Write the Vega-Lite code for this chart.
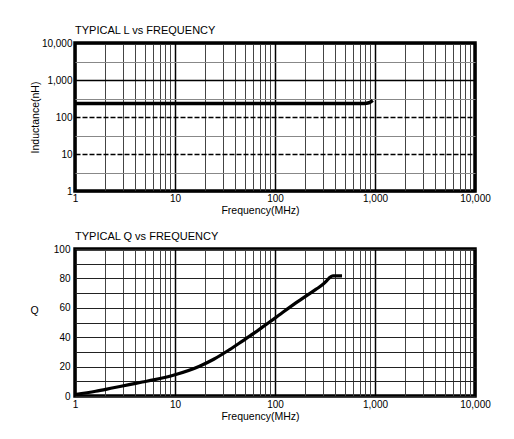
{
  "$schema": "https://vega.github.io/schema/vega-lite/v6.json",
  "padding": {"top": 23, "left": 28, "right": 10, "bottom": 10},
  "spacing": 11,
  "config": {
    "font": "Liberation Sans",
    "view": {"stroke": "black", "strokeWidth": 3.5},
    "title": {"anchor": "start", "frame": "group", "fontSize": 11, "fontWeight": "normal", "font": "Liberation Sans", "color": "black", "offset": 2},
    "axis": {
      "labelFont": "Liberation Sans", "labelFontSize": 10, "labelColor": "black",
      "titleFont": "Liberation Sans", "titleFontSize": 10.5, "titleFontWeight": "normal", "titleColor": "black",
      "ticks": false, "domain": false, "grid": true, "gridOpacity": 1,
      "labelOverlap": false, "labelFlush": false
    }
  },
  "vconcat": [
    {
      "width": 400,
      "height": 148,
      "title": {"text": "TYPICAL L vs FREQUENCY"},
      "data": {"values": [
        {"f": 1, "L": 232},
        {"f": 780, "L": 232},
        {"f": 870, "L": 242},
        {"f": 950, "L": 280}
      ]},
      "mark": {"type": "line", "color": "black", "strokeWidth": 3.5, "interpolate": "monotone"},
      "encoding": {
        "x": {
          "field": "f", "type": "quantitative",
          "scale": {"type": "log", "domain": [1, 10000], "nice": false},
          "axis": {
            "title": "Frequency(MHz)",
            "values": [1,2,3,4,5,6,7,8,9,10,20,30,40,50,60,70,80,90,100,200,300,400,500,600,700,800,900,1000,2000,3000,4000,5000,6000,7000,8000,9000,10000],
            "labelExpr": "(datum.value == 1 || datum.value == 10 || datum.value == 100 || datum.value == 1000 || datum.value == 10000) ? format(datum.value, ',') : ''",
            "labelPadding": 2,
            "titleX": 185, "titleY": 19, "titleBaseline": "middle",
            "gridColor": {"condition": {"test": "datum.value == 1 || datum.value == 10 || datum.value == 100 || datum.value == 1000 || datum.value == 10000", "value": "black"}, "value": "#444"},
            "gridWidth": {"condition": {"test": "datum.value == 1 || datum.value == 10 || datum.value == 100 || datum.value == 1000 || datum.value == 10000", "value": 1.5}, "value": 1}
          }
        },
        "y": {
          "field": "L", "type": "quantitative",
          "scale": {"type": "log", "domain": [1, 10000], "nice": false},
          "axis": {
            "title": "Inductance(nH)",
            "values": [1,3,10,30,100,300,1000,3000,10000],
            "labelExpr": "(datum.value == 3 || datum.value == 30 || datum.value == 300 || datum.value == 3000) ? '' : format(datum.value, ',')",
            "labelPadding": 3,
            "titleX": -40, "titleBaseline": "middle",
            "gridColor": {"condition": {"test": "datum.value == 3 || datum.value == 30 || datum.value == 300 || datum.value == 3000", "value": "#888"}, "value": "black"},
            "gridWidth": {"condition": {"test": "datum.value == 3 || datum.value == 30 || datum.value == 300 || datum.value == 3000", "value": 1}, "value": 1.6},
            "gridDash": {"condition": {"test": "datum.value == 10 || datum.value == 100", "value": [5, 2]}, "value": []}
          }
        }
      }
    },
    {
      "width": 400,
      "height": 147,
      "title": {"text": "TYPICAL Q vs FREQUENCY"},
      "data": {"values": [
        {"f": 1, "Q": 1},
        {"f": 1.61, "Q": 3.2},
        {"f": 2.42, "Q": 5.6},
        {"f": 3.48, "Q": 7.7},
        {"f": 4.71, "Q": 9.5},
        {"f": 6.1, "Q": 11},
        {"f": 10, "Q": 14.5},
        {"f": 17.6, "Q": 20.3},
        {"f": 24.4, "Q": 25},
        {"f": 35.2, "Q": 31.6},
        {"f": 46.8, "Q": 37.2},
        {"f": 60.7, "Q": 42.4},
        {"f": 75.4, "Q": 47},
        {"f": 100, "Q": 53},
        {"f": 163, "Q": 63.5},
        {"f": 256, "Q": 72.5},
        {"f": 300, "Q": 75.8},
        {"f": 330, "Q": 78.5},
        {"f": 355, "Q": 80.8},
        {"f": 380, "Q": 81.7},
        {"f": 468, "Q": 81.7}
      ]},
      "mark": {"type": "line", "color": "black", "strokeWidth": 3.2, "interpolate": "monotone"},
      "encoding": {
        "x": {
          "field": "f", "type": "quantitative",
          "scale": {"type": "log", "domain": [1, 10000], "nice": false},
          "axis": {
            "title": "Frequency(MHz)",
            "values": [1,2,3,4,5,6,7,8,9,10,20,30,40,50,60,70,80,90,100,200,300,400,500,600,700,800,900,1000,2000,3000,4000,5000,6000,7000,8000,9000,10000],
            "labelExpr": "(datum.value == 1 || datum.value == 10 || datum.value == 100 || datum.value == 1000 || datum.value == 10000) ? format(datum.value, ',') : ''",
            "labelPadding": 3,
            "titleX": 185, "titleY": 20, "titleBaseline": "middle",
            "gridColor": {"condition": {"test": "datum.value == 1 || datum.value == 10 || datum.value == 100 || datum.value == 1000 || datum.value == 10000", "value": "black"}, "value": "#444"},
            "gridWidth": {"condition": {"test": "datum.value == 1 || datum.value == 10 || datum.value == 100 || datum.value == 1000 || datum.value == 10000", "value": 1.5}, "value": 1}
          }
        },
        "y": {
          "field": "Q", "type": "quantitative",
          "scale": {"domain": [0, 100], "nice": false},
          "axis": {
            "title": "Q",
            "values": [0,10,20,30,40,50,60,70,80,90,100],
            "labelExpr": "datum.value % 20 == 0 ? format(datum.value, 'd') : ''",
            "labelPadding": 5,
            "titleAngle": 0, "titleX": -41, "titleY": 61, "titleAlign": "center", "titleBaseline": "middle",
            "gridColor": "#222",
            "gridWidth": 1.1
          }
        }
      }
    }
  ]
}
